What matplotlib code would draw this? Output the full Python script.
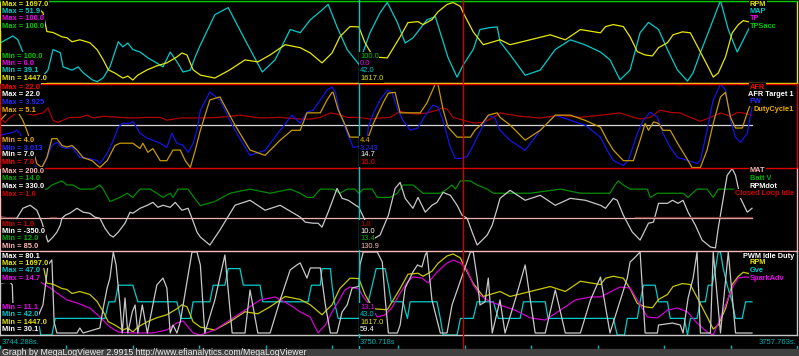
import numpy as np
import matplotlib.pyplot as plt

plt.rcParams['font.family'] = ['Liberation Sans', 'DejaVu Sans']

T0 = 3744.288        # first record in view (s)
T_CURSOR = 3750.718  # cyan cursor
T_LAST = 3757.763    # last record
T_MARK = 3752.593    # red marker

# (seconds after T0, value)
rpm = [(0.00, 1690), (0.36, 1697), (0.72, 1668), (0.77, 1660), (0.84, 1603), (0.95, 1600), (1.11, 1587),
       (1.20, 1584), (1.29, 1572), (1.43, 1578), (1.61, 1569), (1.74, 1548), (1.85, 1517), (1.94, 1487),
       (2.06, 1477), (2.20, 1462), (2.29, 1468), (2.38, 1456), (2.47, 1471), (2.64, 1487), (2.81, 1499),
       (2.99, 1508), (3.17, 1526), (3.26, 1538), (3.35, 1532), (3.46, 1487), (3.59, 1471), (3.85, 1462),
       (4.12, 1487), (4.39, 1517), (4.62, 1511), (4.84, 1532), (5.11, 1563), (5.38, 1554), (5.56, 1538),
       (5.77, 1508), (5.95, 1538), (6.09, 1587), (6.27, 1618), (6.43, 1617), (6.54, 1569), (6.69, 1526),
       (6.94, 1523), (7.17, 1587), (7.31, 1630), (7.49, 1633), (7.58, 1624), (7.74, 1639), (7.85, 1663),
       (8.01, 1685), (8.12, 1691), (8.25, 1679), (8.30, 1660), (8.48, 1602), (8.66, 1563), (8.84, 1572),
       (8.96, 1578), (9.14, 1563), (9.50, 1578), (9.86, 1593), (10.13, 1578), (10.40, 1609), (10.76, 1599),
       (10.85, 1618), (10.99, 1624), (11.17, 1618), (11.29, 1587), (11.42, 1542), (11.56, 1532), (11.69, 1529),
       (11.80, 1554), (11.96, 1569), (12.06, 1593), (12.23, 1602), (12.37, 1599), (12.51, 1554), (12.67, 1502),
       (12.78, 1465), (12.87, 1477), (13.00, 1526), (13.12, 1599), (13.23, 1624), (13.32, 1636), (13.475, 1630)]

map_kpa = [(0.00, 45.3), (0.23, 46.4), (0.32, 45.8), (0.41, 43.9), (0.68, 39.3), (0.86, 41.1), (0.95, 44.3),
           (1.08, 43.8), (1.13, 41.6), (1.29, 41.1), (1.40, 41.6), (1.49, 40.7), (1.65, 39.6), (1.74, 39.3),
           (1.85, 39.9), (1.97, 41.6), (2.12, 45.5), (2.20, 44.7), (2.29, 45.3), (2.38, 44.3), (2.51, 43.9),
           (2.65, 43.0), (2.81, 42.2), (2.92, 41.6), (3.05, 43.9), (3.17, 42.4), (3.28, 40.8), (3.41, 41.1),
           (3.50, 43.2), (3.59, 45.0), (3.85, 49.7), (4.09, 50.8), (4.39, 45.8), (4.70, 40.8), (4.93, 42.7),
           (5.20, 47.4), (5.38, 46.9), (5.56, 48.9), (5.74, 50.2), (5.88, 51.3), (6.04, 47.8), (6.22, 44.3),
           (6.43, 42.0), (6.63, 46.9), (6.81, 50.0), (6.94, 51.6), (7.12, 48.5), (7.26, 45.3), (7.40, 46.1),
           (7.65, 48.9), (7.80, 49.4), (7.89, 46.9), (8.03, 43.0), (8.19, 40.0), (8.30, 41.9), (8.48, 44.3),
           (8.60, 47.4), (8.78, 47.7), (8.91, 47.8), (8.96, 45.5), (9.14, 43.5), (9.41, 40.3), (9.68, 41.1),
           (9.95, 44.3), (10.22, 45.8), (10.49, 45.0), (10.76, 43.9), (10.93, 42.7), (11.11, 39.6), (11.29, 41.1),
           (11.47, 46.9), (11.62, 48.5), (11.80, 47.4), (11.96, 44.3), (12.14, 41.1), (12.32, 39.4), (12.42, 40.7),
           (12.55, 43.8), (12.73, 47.8), (12.91, 51.9), (13.05, 47.4), (13.21, 43.9), (13.32, 45.8), (13.475, 48.5)]

tp = [(0.00, 0.0), (13.475, 0.0)]
tps_acc = [(0.00, 100.0), (13.475, 100.0)]

afr = [(0.00, 15.9), (0.09, 15.1), (0.18, 16.0), (0.30, 16.8), (0.48, 16.8), (0.59, 16.4), (0.77, 16.8),
       (0.86, 17.7), (0.95, 15.5), (1.04, 15.1), (1.13, 15.5), (1.25, 16.0), (1.43, 16.0), (1.56, 16.4),
       (1.67, 15.9), (1.85, 16.2), (2.15, 16.0), (2.38, 15.9), (2.64, 16.0), (2.87, 16.0), (2.99, 15.5),
       (3.23, 15.9), (3.59, 15.9), (3.94, 16.0), (4.30, 16.4), (4.66, 15.9), (5.02, 16.0), (5.38, 15.7),
       (5.56, 15.7), (5.74, 16.0), (5.92, 16.8), (6.04, 16.6), (6.22, 16.0), (6.43, 16.0), (6.63, 15.7),
       (6.81, 15.9), (6.99, 16.0), (7.17, 17.1), (7.30, 16.8), (7.48, 16.6), (7.65, 16.8), (7.83, 17.3),
       (7.92, 17.7), (8.01, 17.5), (8.12, 16.0), (8.30, 15.5), (8.48, 15.0), (8.66, 15.1), (8.84, 16.0),
       (8.96, 16.8), (9.32, 16.2), (9.68, 15.9), (10.04, 16.4), (10.40, 16.0), (10.76, 16.4), (10.93, 16.6),
       (11.11, 16.8), (11.29, 16.2), (11.47, 15.7), (11.65, 16.0), (11.83, 17.3), (12.01, 16.9), (12.19, 16.8),
       (12.37, 16.0), (12.55, 15.3), (12.73, 16.0), (12.91, 16.8), (13.09, 16.2), (13.21, 16.9), (13.32, 16.8),
       (13.475, 16.4)]

afr_target = [(0.00, 14.7), (13.475, 14.7)]

pw = [(0.00, 3.365), (0.23, 3.397), (0.30, 3.420), (0.36, 3.387), (0.45, 3.233), (0.50, 3.167), (0.59, 3.057),
      (0.66, 3.013), (0.75, 3.013), (0.84, 3.112), (0.93, 3.255), (1.02, 3.288), (1.11, 3.233), (1.20, 3.222),
      (1.29, 3.233), (1.43, 3.123), (1.58, 3.112), (1.74, 3.090), (1.79, 3.057), (1.92, 3.167), (2.03, 3.310),
      (2.12, 3.453), (2.20, 3.496), (2.33, 3.496), (2.38, 3.518), (2.51, 3.387), (2.64, 3.332), (2.74, 3.310),
      (2.87, 3.277), (2.99, 3.233), (3.08, 3.387), (3.17, 3.277), (3.28, 3.255), (3.37, 3.178), (3.46, 3.277),
      (3.53, 3.420), (3.59, 3.639), (3.76, 3.837), (3.94, 3.749), (4.21, 3.420), (4.48, 3.145), (4.75, 3.200),
      (5.02, 3.420), (5.23, 3.584), (5.38, 3.496), (5.50, 3.617), (5.61, 3.639), (5.74, 3.749), (5.86, 3.859),
      (5.95, 3.892), (6.01, 3.837), (6.09, 3.606), (6.22, 3.387), (6.33, 3.233), (6.43, 3.243), (6.56, 3.222),
      (6.60, 3.453), (6.69, 3.606), (6.81, 3.749), (6.94, 3.859), (7.03, 3.826), (7.13, 3.639), (7.22, 3.529),
      (7.35, 3.420), (7.48, 3.442), (7.65, 3.606), (7.76, 3.694), (7.85, 3.672), (7.94, 3.529), (8.07, 3.233),
      (8.16, 3.112), (8.25, 3.112), (8.37, 3.134), (8.46, 3.233), (8.55, 3.343), (8.64, 3.453), (8.75, 3.584),
      (8.87, 3.551), (8.96, 3.420), (9.14, 3.310), (9.41, 3.200), (9.68, 3.420), (9.95, 3.584), (10.22, 3.529),
      (10.49, 3.474), (10.76, 3.343), (10.88, 3.200), (10.99, 3.090), (11.17, 3.035), (11.26, 3.090),
      (11.42, 3.387), (11.53, 3.529), (11.65, 3.617), (11.78, 3.562), (11.88, 3.387), (12.01, 3.233),
      (12.14, 3.123), (12.32, 3.090), (12.49, 3.057), (12.55, 3.090), (12.67, 3.420), (12.78, 3.749),
      (12.91, 3.925), (13.00, 3.859), (13.09, 3.529), (13.18, 3.343), (13.27, 3.288), (13.39, 3.387),
      (13.475, 3.672)]

duty = [(0.00, 4.62), (0.13, 4.72), (0.23, 4.76), (0.32, 4.73), (0.41, 4.62), (0.50, 4.45), (0.59, 4.23),
        (0.66, 4.05), (0.75, 4.00), (0.84, 4.13), (0.93, 4.38), (1.02, 4.38), (1.11, 4.29), (1.20, 4.27),
        (1.29, 4.29), (1.38, 4.23), (1.49, 4.13), (1.65, 4.09), (1.74, 4.03), (1.79, 4.00), (1.92, 4.09),
        (2.06, 4.29), (2.15, 4.32), (2.38, 4.32), (2.51, 4.25), (2.56, 4.32), (2.65, 4.20), (2.74, 4.25),
        (2.87, 4.09), (2.99, 4.09), (3.10, 4.23), (3.23, 4.23), (3.32, 4.09), (3.41, 4.00), (3.50, 4.23),
        (3.59, 4.49), (3.76, 4.89), (3.94, 4.93), (4.21, 4.56), (4.48, 4.23), (4.75, 4.16), (5.02, 4.36),
        (5.23, 4.49), (5.38, 4.49), (5.50, 4.72), (5.74, 4.72), (5.86, 4.89), (5.95, 4.99), (5.97, 4.99),
        (6.06, 4.76), (6.15, 4.62), (6.27, 4.40), (6.43, 4.40), (6.60, 4.40), (6.69, 4.58), (6.78, 4.72),
        (6.87, 4.86), (6.96, 4.98), (7.08, 4.99), (7.17, 4.72), (7.53, 4.72), (7.65, 4.85), (7.80, 5.10),
        (7.85, 5.09), (7.94, 4.76), (8.03, 4.53), (8.19, 4.40), (8.43, 4.40), (8.51, 4.49), (8.64, 4.58),
        (8.75, 4.69), (8.91, 4.72), (8.96, 4.66), (9.14, 4.56), (9.41, 4.36), (9.68, 4.49), (9.95, 4.69),
        (10.22, 4.69), (10.49, 4.62), (10.76, 4.53), (10.88, 4.36), (10.99, 4.23), (11.17, 4.09), (11.35, 4.09),
        (11.47, 4.36), (11.56, 4.58), (11.62, 4.49), (11.71, 4.60), (11.80, 4.58), (11.88, 4.49), (12.01, 4.49),
        (12.14, 4.32), (12.24, 4.20), (12.33, 4.09), (12.40, 4.00), (12.55, 4.00), (12.67, 4.23), (12.78, 4.58),
        (12.91, 4.93), (13.00, 4.99), (13.09, 4.66), (13.18, 4.52), (13.30, 4.52), (13.39, 4.72), (13.475, 4.89)]

mat = [(0.00, 130.9), (13.475, 130.9)]

batt_v = [(0.00, 13.5), (0.84, 13.5), (0.93, 13.6), (1.11, 13.7), (1.20, 13.6), (1.31, 13.6), (1.43, 13.5),
          (1.67, 13.5), (1.79, 13.6), (1.85, 13.5), (1.97, 13.2), (2.15, 13.3), (2.28, 13.4), (2.38, 13.3),
          (2.51, 13.5), (2.69, 13.5), (2.81, 13.4), (2.92, 13.3), (3.05, 13.4), (3.10, 13.3), (3.19, 13.5),
          (3.37, 13.5), (3.53, 13.2), (3.59, 13.1), (3.85, 13.2), (4.12, 13.4), (4.48, 13.5), (4.84, 13.4),
          (5.20, 13.5), (5.38, 13.4), (5.50, 13.3), (5.61, 13.3), (5.74, 13.5), (5.97, 13.5), (6.09, 13.4),
          (6.22, 13.5), (6.36, 13.5), (6.43, 13.4), (6.51, 13.5), (6.67, 13.5), (6.76, 13.3), (6.99, 13.3),
          (7.12, 13.4), (7.22, 13.6), (7.40, 13.6), (7.49, 13.5), (7.58, 13.4), (7.89, 13.4), (8.01, 13.5),
          (8.10, 13.6), (8.16, 13.5), (8.25, 13.7), (8.43, 13.7), (8.55, 13.6), (8.73, 13.5), (8.84, 13.4),
          (8.96, 13.4), (9.50, 13.4), (10.04, 13.5), (10.40, 13.4), (10.76, 13.4), (10.93, 13.4), (11.02, 13.6),
          (11.08, 13.7), (11.17, 13.6), (11.29, 13.5), (11.60, 13.5), (11.65, 13.3), (11.78, 13.4), (12.24, 13.4),
          (12.33, 13.3), (12.49, 13.5), (12.67, 13.5), (12.78, 13.3), (12.87, 13.5), (13.14, 13.5),
          (13.32, 13.45), (13.475, 13.4)]

rpm_dot = [(0.00, -71), (0.30, -80), (0.41, 2), (0.54, 27), (0.66, -14), (0.75, -112), (0.86, -276),
           (0.95, -235), (1.02, -194), (1.08, -137), (1.11, -80), (1.17, -55), (1.25, -39), (1.38, 2),
           (1.49, -30), (1.61, -39), (1.70, -71), (1.79, -80), (1.88, -162), (1.97, -219), (2.03, -235),
           (2.12, -194), (2.24, -121), (2.33, -30), (2.38, -39), (2.51, 2), (2.64, 27), (2.74, 51), (2.83, 10),
           (2.92, 27), (3.05, 10), (3.14, 51), (3.26, -14), (3.37, 2), (3.44, -80), (3.53, -194), (3.59, -235),
           (3.76, -301), (3.94, -178), (4.21, 27), (4.48, 68), (4.75, -14), (5.02, 27), (5.23, -30), (5.38, -71),
           (5.47, -112), (5.61, -121), (5.70, -121), (5.77, -153), (5.88, -30), (6.04, 166), (6.13, 84),
           (6.24, 68), (6.43, 10), (6.54, -96), (6.72, -243), (6.81, -219), (6.96, -55), (7.08, 166), (7.17, 215),
           (7.26, 84), (7.40, 2), (7.49, 92), (7.62, -30), (7.74, 27), (7.83, 51), (7.94, 133), (8.07, 109),
           (8.19, 27), (8.28, -55), (8.37, -80), (8.46, -194), (8.55, -301), (8.64, -260), (8.73, -219),
           (8.82, -137), (8.91, 2), (8.96, 84), (9.14, 150), (9.41, 68), (9.68, 109), (9.95, 27), (10.22, 84),
           (10.49, 68), (10.76, 27), (10.85, 2), (10.99, 84), (11.06, 68), (11.17, -55), (11.33, -194),
           (11.47, -260), (11.62, -121), (11.71, -112), (11.80, 43), (11.96, 43), (12.05, 68), (12.15, 43),
           (12.24, 68), (12.33, -30), (12.46, -137), (12.58, -260), (12.73, -317), (12.82, -325), (12.87, -162),
           (12.96, 84), (13.03, 273), (13.12, 330), (13.18, 273), (13.27, 84), (13.39, -30), (13.475, 2)]

closed_loop_idle = [(0.00, 1.0), (0.27, 1.0), (0.28, np.nan), (0.90, 1.0), (1.00, 1.0), (1.01, np.nan),
                    (11.38, 1.0), (13.475, 1.0)]

pwm_idle = [(0.00, 61.4), (0.18, 62.0), (0.22, 60.2), (0.25, 31.3), (0.45, 31.3), (0.59, 34.3), (0.77, 48.2),
            (0.86, 72.3), (0.93, 75.3), (0.97, 37.9), (1.02, 31.3), (1.38, 31.3), (1.43, 34.3), (1.49, 31.3),
            (1.79, 34.3), (1.85, 46.4), (1.92, 58.4), (1.97, 64.4), (2.03, 80.1), (2.08, 72.3), (2.15, 48.2),
            (2.19, 31.3), (2.24, 52.4), (2.29, 31.3), (2.37, 44.0), (2.42, 48.2), (2.47, 31.3), (2.55, 48.2),
            (2.64, 31.3), (2.81, 60.2), (2.92, 64.4), (2.99, 58.4), (3.05, 31.3), (3.10, 36.1), (3.17, 31.3),
            (3.23, 37.9), (3.41, 74.1), (3.44, 80.1), (3.53, 80.1), (3.59, 72.3), (3.67, 31.3), (3.85, 51.2),
            (4.03, 78.3), (4.16, 31.3), (4.39, 31.3), (4.48, 57.2), (4.62, 31.3), (4.84, 31.3), (5.02, 51.2),
            (5.20, 69.3), (5.32, 72.3), (5.38, 73.5), (5.50, 64.4), (5.56, 70.5), (5.74, 70.5), (5.83, 48.2),
            (5.92, 31.3), (6.04, 31.3), (6.13, 44.0), (6.22, 48.2), (6.31, 58.4), (6.43, 59.4), (6.45, 72.3),
            (6.51, 80.1), (6.76, 80.1), (6.85, 74.1), (6.90, 52.4), (6.96, 31.3), (7.12, 31.3), (7.17, 36.1),
            (7.26, 58.4), (7.40, 68.1), (7.48, 72.3), (7.56, 71.1), (7.62, 78.3), (7.65, 80.1), (7.74, 51.2),
            (7.89, 31.3), (8.01, 31.3), (8.10, 48.2), (8.43, 80.1), (8.48, 80.1), (8.55, 64.4), (8.60, 48.2),
            (8.69, 50.0), (8.75, 64.4), (8.82, 31.3), (8.91, 44.0), (8.96, 51.2), (9.05, 31.3), (9.23, 51.2),
            (9.41, 72.3), (9.59, 31.3), (9.77, 31.3), (9.95, 57.2), (10.13, 31.3), (10.40, 31.3), (10.58, 51.2),
            (10.76, 65.0), (10.93, 31.3), (11.24, 64.4), (11.29, 74.1), (11.35, 75.9), (11.47, 80.1),
            (11.56, 31.3), (11.78, 31.3), (11.80, 36.1), (12.05, 37.3), (12.19, 36.1), (12.24, 31.3),
            (12.33, 52.4), (12.42, 64.4), (12.49, 80.1), (12.55, 31.3), (12.73, 31.3), (12.78, 80.1),
            (12.91, 31.3), (13.05, 80.1), (13.18, 31.3), (13.475, 31.3)]

gve = [(0.00, 43), (0.68, 43), (0.73, 42), (0.93, 42), (0.99, 43), (1.88, 43), (1.95, 44), (2.06, 44),
       (2.12, 45), (2.38, 45), (2.47, 44), (3.17, 44), (3.24, 43), (3.41, 43), (3.46, 44), (3.76, 44),
       (3.82, 45), (4.03, 45), (4.09, 46), (4.30, 46), (4.36, 45), (4.66, 45), (4.71, 44), (5.52, 44),
       (5.58, 45), (5.74, 45), (5.77, 46), (5.92, 46), (5.95, 45), (5.99, 44), (6.06, 43), (6.56, 43),
       (6.60, 44), (6.67, 45), (6.74, 46), (6.90, 46), (6.96, 45), (7.01, 44), (7.22, 44), (7.30, 43),
       (7.35, 44), (7.83, 44), (7.89, 43), (7.94, 42), (8.19, 42), (8.25, 43), (8.48, 43), (8.55, 44),
       (8.84, 44), (8.93, 43), (9.32, 43), (9.38, 44), (9.77, 44), (9.82, 43), (10.99, 43), (11.06, 42),
       (11.19, 42), (11.24, 43), (11.42, 43), (11.47, 44), (11.53, 45), (11.74, 45), (11.80, 44), (11.96, 44),
       (12.01, 43), (12.26, 43), (12.32, 42), (12.37, 43), (12.49, 43), (12.55, 44), (12.64, 44), (12.69, 45),
       (12.76, 45), (12.82, 46), (12.87, 47), (12.91, 47), (12.96, 46), (13.03, 45), (13.12, 44), (13.18, 43),
       (13.30, 43), (13.36, 44), (13.475, 44)]

spark_adv = [(0.00, 14.5), (0.36, 14.4), (0.59, 14.05), (0.72, 13.40), (0.90, 13.14), (1.02, 12.92),
             (1.20, 12.62), (1.38, 12.49), (1.61, 12.27), (1.79, 11.88), (1.97, 11.45), (2.12, 11.23),
             (2.38, 11.19), (2.74, 11.19), (2.99, 11.32), (3.17, 11.62), (3.28, 11.71), (3.37, 11.45),
             (3.46, 11.19), (3.59, 11.10), (3.85, 11.32), (4.12, 11.75), (4.39, 12.18), (4.66, 12.62),
             (4.93, 12.75), (5.20, 12.40), (5.38, 12.10), (5.56, 11.88), (5.70, 11.19), (5.83, 11.53),
             (5.95, 12.10), (6.06, 12.53), (6.18, 13.05), (6.27, 13.18), (6.43, 13.10), (6.51, 12.75),
             (6.63, 12.40), (6.76, 11.88), (6.90, 11.97), (7.03, 12.31), (7.17, 12.92), (7.30, 13.40),
             (7.40, 13.62), (7.56, 13.57), (7.67, 13.36), (7.83, 13.83), (8.01, 14.22), (8.12, 14.35),
             (8.25, 14.22), (8.37, 13.92), (8.48, 13.27), (8.60, 12.83), (8.73, 12.62), (8.84, 12.49),
             (8.96, 12.40), (9.23, 12.18), (9.50, 11.84), (9.77, 11.75), (10.04, 12.18), (10.31, 12.62),
             (10.58, 12.75), (10.76, 12.75), (10.93, 12.96), (11.11, 13.18), (11.29, 13.14), (11.42, 12.62),
             (11.60, 11.88), (11.78, 11.84), (11.96, 12.18), (12.14, 12.27), (12.32, 12.10), (12.49, 11.62),
             (12.67, 11.23), (12.78, 11.10), (12.87, 11.62), (13.00, 12.40), (13.12, 13.14), (13.23, 13.57),
             (13.36, 13.62), (13.475, 13.57)]

YEL, CYA, MAG, GRN = '#e8e800', '#00cccc', '#f000f0', '#00c800'
RED, WHT, BLU, GLD = '#ff0000', '#ffffff', '#2828ff', '#f0b000'
PNK, DGR, DRD, GRY = '#ffb8b8', '#00b000', '#d00000', '#c8c8c8'
TEAL = '#00b4b4'

W, H = 799, 356
fig = plt.figure(figsize=(W / 100, H / 100), dpi=100, facecolor='black')
X_RIGHT = T0 + (T_LAST - T0) * 797 / 752


def px(x, y):
    return x / W, 1 - y / H


def panel(top, bottom, edge, top_edge=None):
    ax = fig.add_axes([0, 1 - bottom / H, 797 / W, (bottom - top) / H])
    ax.set_xlim(T0, X_RIGHT)
    ax.set_xticks([])
    ax.set_yticks([])
    for s in ax.spines.values():
        s.set_color(edge)
        s.set_linewidth(1)
    if top_edge is None:
        ax.spines['top'].set_visible(False)
    else:
        ax.spines['top'].set_color(top_edge)
    return ax


def trace(ax, pts, lo, hi, color, lw=0.9):
    t, v = np.array(pts, dtype=float).T
    tw = ax.twinx()
    tw.set_ylim(lo, hi)
    tw.axis('off')
    tw.plot(T0 + t, v, color=color, lw=lw)


def finish(ax):
    ax.set_zorder(10)
    ax.patch.set_visible(False)


def txt(x, y, s, color, ha='left', bold=True, size=5.4):
    t = fig.text(*px(x, y), s, color=color, ha=ha, va='center', fontsize=size,
                 fontweight='bold' if bold else 'normal',
                 bbox=dict(boxstyle='square,pad=0.08', fc='black', ec='none'))
    t.set_zorder(30)


# panel 1
ax1 = panel(0.5, 83, YEL, top_edge=GRN)
trace(ax1, tp, 0, 100, MAG)
trace(ax1, tps_acc, 0, 100, GRN)
trace(ax1, map_kpa, 39.1, 51.9, CYA)
trace(ax1, rpm, 1447, 1697, YEL)
finish(ax1)

# panel 2
ax2 = panel(84, 167.5, '#e00000', top_edge='#e00000')
trace(ax2, afr, 7, 22, '#b00000')
trace(ax2, afr_target, 7, 22, '#d8d8d8')
trace(ax2, pw, 3.013, 3.925, '#1414e6')
trace(ax2, duty, 4.0, 5.1, '#c89a00')
finish(ax2)

# panel 3
ax3 = panel(168.5, 251, PNK)
trace(ax3, mat, 85, 200, '#f0b0b0')
trace(ax3, batt_v, 12, 14, '#008c00')
trace(ax3, rpm_dot, -350, 330, GRY)
trace(ax3, closed_loop_idle, 0.59, 1.59, '#7a3a3a')
finish(ax3)

# panel 4
ax4 = panel(252, 335, GRY)
trace(ax4, gve, 42, 47, CYA)
trace(ax4, rpm, 1447, 1697, '#c8c800')
trace(ax4, spark_adv, 11.1, 14.7, '#d000d0')
trace(ax4, pwm_idle, 30.1, 80.1, GRY)
finish(ax4)

# time strip
axt = fig.add_axes([0, 1 - 349 / H, 797 / W, 14 / H])
axt.set_facecolor('black')
axt.set_xlim(T0, X_RIGHT)
axt.set_xticks(np.linspace(T0, X_RIGHT, 13))
axt.tick_params(axis='x', direction='in', length=3, width=1, color=TEAL, labelbottom=False)
axt.set_yticks([])
for s in axt.spines.values():
    s.set_visible(False)

# cursor and marker lines
axc = fig.add_axes([0, 1 - 349 / H, 797 / W, 349 / H])
axc.set_xlim(T0, X_RIGHT)
axc.axis('off')
axc.set_zorder(20)
axc.axvline(T_CURSOR, color='#00c8c8', lw=1)
axc.axvline(T_MARK, color='#d00000', lw=1)

# footer
fig.add_artist(plt.Rectangle((0, 0), 1, 7.5 / H, transform=fig.transFigure, color='#404040'))
fig.text(*px(2, 352.5), 'Graph by MegaLogViewer 2.9915 http://www.efianalytics.com/MegaLogViewer',
         color='#f0f0f0', fontsize=6.3, va='center')

txt(2, 342, f'{T0:.3f}s.', TEAL, bold=False, size=5.5)
txt(360, 342, f'{T_CURSOR:.3f}s', TEAL, bold=False, size=5.5)
txt(797, 342, f'{T_LAST:.3f}s.', TEAL, ha='right', bold=False, size=5.5)

# min / max labels, cursor values, legends
groups = [
    ([('Max = 1697.0', YEL), ('Max = 51.9', CYA), ('Max = 100.0', MAG), ('Max = 100.0', GRN)], [4, 11.5, 19, 26.5],
     [('Min = 100.0', GRN), ('Min = 0.0', MAG), ('Min = 39.1', CYA), ('Min = 1447.0', YEL)], [56, 63.5, 71, 78.5],
     [('100.0', GRN), ('0.0', MAG), ('42.0', CYA), ('1617.0', YEL)],
     [('RPM', YEL), ('MAP', CYA), ('TP', MAG), ('TPSacc', GRN)], [4, 11.5, 19, 26.5]),
    ([('Max = 22.0', RED), ('Max = 22.0', WHT), ('Max = 3.925', BLU), ('Max = 5.1', GLD)], [87.5, 95, 102.5, 110],
     [('Min = 4.0', GLD), ('Min = 3.013', BLU), ('Min = 7.0', WHT), ('Min = 7.0', RED)], [140.5, 148, 155, 162.5],
     [('4.4', GLD), ('3.243', BLU), ('14.7', WHT), ('16.0', RED)],
     [('AFR', RED), ('AFR Target 1', WHT), ('PW', BLU), ('DutyCycle1', GLD)], [87.5, 94.5, 102, 109.5]),
    ([('Max = 200.0', PNK), ('Max = 14.0', DGR), ('Max = 330.0', WHT), ('Max = 1.0', DRD)], [171.5, 179, 186.5, 194],
     [('Min = 1.0', DRD), ('Min = -350.0', WHT), ('Min = 12.0', DGR), ('Min = 85.0', PNK)], [224.5, 231.5, 238.5, 246],
     [('1.0', DRD), ('10.0', WHT), ('13.4', DGR), ('130.9', PNK)],
     [('MAT', PNK), ('Batt V', DGR), ('RPMdot', WHT), ('Closed Loop Idle', DRD)], [171, 178.5, 186, 193.5]),
    ([('Max = 80.1', WHT), ('Max = 1697.0', YEL), ('Max = 47.0', CYA), ('Max = 14.7', MAG)], [256, 263.5, 271, 278.5],
     [('Min = 11.1', MAG), ('Min = 42.0', CYA), ('Min = 1447.0', YEL), ('Min = 30.1', WHT)], [307.5, 315, 322, 329.5],
     [('13.1', MAG), ('43.0', CYA), ('1617.0', YEL), ('59.4', WHT)],
     [('PWM Idle Duty', WHT), ('RPM', YEL), ('Gve', CYA), ('SparkAdv', MAG)], [256, 263, 270.5, 278]),
]

for maxes, ymax, mins, ymin, cur, legend, yleg in groups:
    for (s, c), y in zip(maxes, ymax):
        txt(2, y, s, c)
    for (s, c), y in zip(mins, ymin):
        txt(2, y, s, c)
    for (s, c), y in zip(cur, ymin):
        txt(360, y, s, c, bold=False)
    for (s, c), y in zip(legend, yleg):
        if len(s) > 8:
            txt(794, y, s, c, ha='right', size=5.3)
        else:
            txt(750, y, s, c, size=5.3)

fig.savefig('out.png', dpi=100, facecolor='black')
